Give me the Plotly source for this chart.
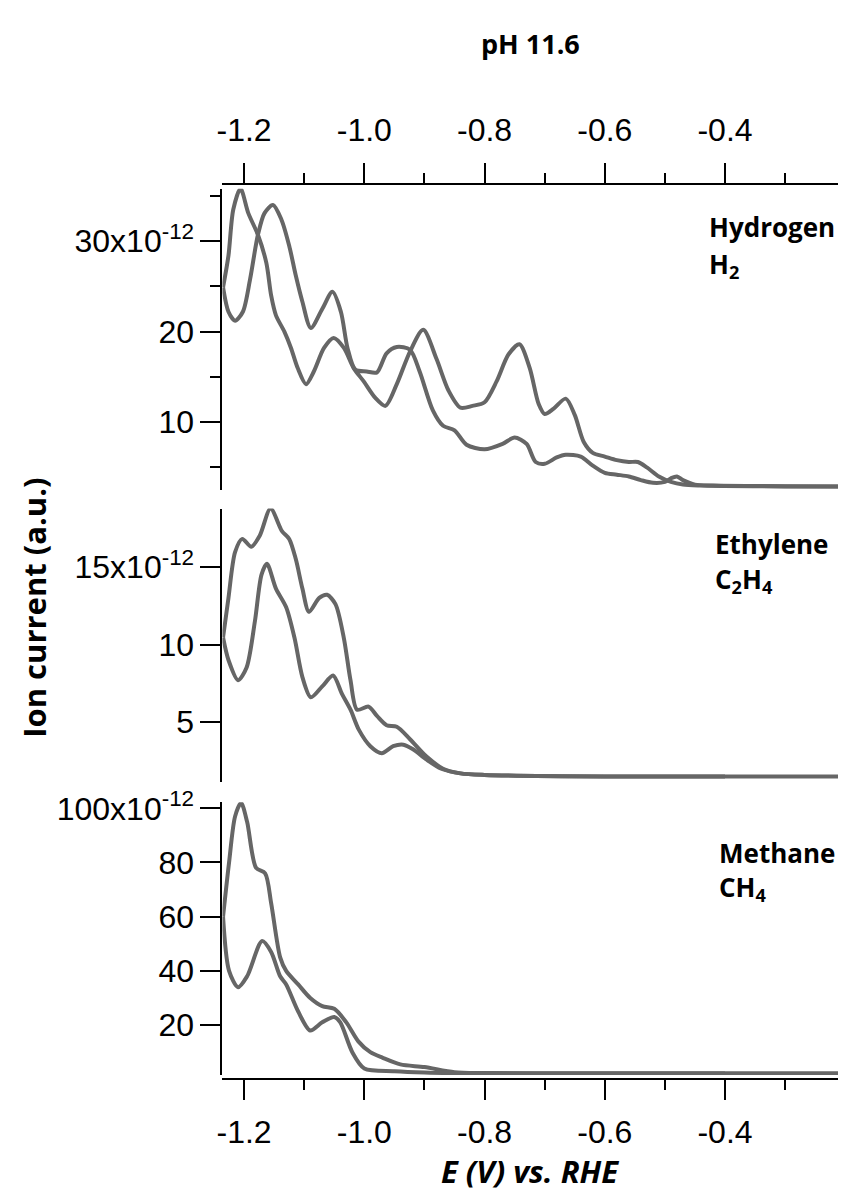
import plotly.graph_objects as go

# Potential axis (V vs. RHE) and tick labels
x_ticks = [-1.2, -1.0, -0.8, -0.6, -0.4]
x_tick_text = ["-1.2", "-1.0", "-0.8", "-0.6", "-0.4"]
x_minor = [-1.1, -0.9, -0.7, -0.5, -0.3]

# Hydrogen (H2) ion current, units of 1e-12
h2_a_v = [-1.235, -1.226, -1.218, -1.206, -1.193, -1.177, -1.163, -1.155, -1.147, -1.133, -1.122,
          -1.111, -1.097, -1.084, -1.067, -1.051, -1.034, -1.018, -1.001, -0.982, -0.965, -0.946,
          -0.924, -0.902, -0.88, -0.86, -0.84, -0.82, -0.80, -0.78, -0.76, -0.742, -0.725, -0.71,
          -0.70, -0.685, -0.665, -0.65, -0.635, -0.62, -0.60, -0.58, -0.56, -0.545, -0.53, -0.51,
          -0.49, -0.47, -0.44, -0.30, -0.212]
h2_a_i = [24.9, 28.4, 33.5, 35.8, 33.1, 30.7, 27.6, 24.0, 21.8, 20.0, 18.2,
          16.0, 14.2, 15.6, 18.2, 19.3, 18.2, 16.0, 14.5, 12.7, 11.8, 14.2,
          17.8, 20.2, 17.0, 13.5, 11.6, 11.8, 12.2, 14.5, 17.5, 18.6, 16.0, 12.0,
          10.9, 11.5, 12.6, 10.8, 7.8, 6.6, 6.2, 5.8, 5.6, 5.6, 5.0, 4.0,
          3.4, 3.1, 3.0, 2.9, 2.9]
h2_b_v = [-1.235, -1.226, -1.215, -1.202, -1.190, -1.177, -1.166, -1.152, -1.138, -1.125, -1.114,
          -1.103, -1.089, -1.070, -1.053, -1.039, -1.028, -1.015, -0.996, -0.979, -0.963, -0.946,
          -0.924, -0.908, -0.886, -0.869, -0.85, -0.83, -0.80, -0.77, -0.75, -0.73, -0.715, -0.70,
          -0.68, -0.665, -0.64, -0.62, -0.60, -0.58, -0.56, -0.54, -0.52, -0.50, -0.49, -0.48,
          -0.47, -0.45, -0.42, -0.212]
h2_b_i = [24.9, 22.2, 21.2, 22.2, 25.8, 30.7, 33.1, 34.0, 32.4, 29.5, 26.2,
          23.3, 20.4, 22.5, 24.4, 22.2, 18.2, 15.8, 15.6, 15.5, 17.6, 18.3,
          18.0, 15.6, 11.3, 9.6, 9.1, 7.5, 7.0, 7.6, 8.3, 7.6, 5.6, 5.4,
          6.1, 6.4, 6.2, 5.2, 4.4, 4.2, 4.0, 3.6, 3.3, 3.4, 3.8, 4.0,
          3.6, 3.1, 3.0, 2.9]

# Ethylene (C2H4) ion current, units of 1e-12
c2h4_a_v = [-1.235, -1.226, -1.215, -1.203, -1.188, -1.174, -1.156, -1.137, -1.125, -1.114, -1.103,
            -1.092, -1.075, -1.062, -1.048, -1.034, -1.023, -1.012, -0.993, -0.979, -0.963, -0.946,
            -0.924, -0.897, -0.869, -0.84, -0.80, -0.60, -0.40, -0.212]
c2h4_a_i = [10.45, 13.0, 15.95, 16.8, 16.3, 17.0, 18.75, 17.3, 16.8, 15.5, 13.6,
            12.1, 13.0, 13.2, 12.6, 10.4, 7.7, 5.8, 6.0, 5.4, 4.8, 4.7,
            3.9, 2.8, 2.0, 1.7, 1.6, 1.5, 1.5, 1.5]
c2h4_b_v = [-1.235, -1.226, -1.210, -1.196, -1.182, -1.171, -1.162, -1.147, -1.130, -1.116, -1.103,
            -1.089, -1.070, -1.052, -1.037, -1.023, -1.009, -0.990, -0.971, -0.952, -0.935, -0.919,
            -0.897, -0.872, -0.84, -0.80, -0.60, -0.40]
c2h4_b_i = [10.45, 9.0, 7.7, 8.5, 11.5, 14.5, 15.2, 13.6, 12.4, 10.4, 7.9,
            6.6, 7.3, 8.0, 6.8, 5.8, 4.5, 3.45, 3.0, 3.45, 3.55, 3.25,
            2.6, 2.0, 1.7, 1.6, 1.5, 1.5]

# Methane (CH4) ion current, units of 1e-12
ch4_a_v = [-1.235, -1.225, -1.215, -1.205, -1.195, -1.18, -1.165, -1.155, -1.14, -1.13, -1.11,
           -1.09, -1.07, -1.05, -1.03, -1.01, -0.99, -0.97, -0.94, -0.90, -0.85, -0.80, -0.60, -0.40, -0.212]
ch4_a_i = [60, 80, 97, 102, 95, 78, 76, 65, 45, 40, 35,
           30, 27, 26, 21, 14, 10, 8, 5.5, 4.5, 2.6, 2.3, 2.2, 2.2, 2.2]
ch4_b_v = [-1.235, -1.225, -1.21, -1.195, -1.17, -1.155, -1.14, -1.13, -1.11, -1.09, -1.07,
           -1.05, -1.04, -1.02, -1.00, -0.95, -0.90, -0.85, -0.60, -0.40]
ch4_b_i = [60, 40, 34, 38, 51, 47, 38, 35, 25, 18, 21,
           23, 21, 10, 4, 3, 2.5, 2.3, 2.1, 2.1]

# Left-axis ticks for each panel
h2_ticks = [10, 20, 30]
h2_tick_text = ["10", "20", "30x10<sup>-12</sup>"]
h2_minor = [5, 15, 25, 35]
c2h4_ticks = [5, 10, 15]
c2h4_tick_text = ["5", "10", "15x10<sup>-12</sup>"]
ch4_ticks = [20, 40, 60, 80, 100]
ch4_tick_text = ["20", "40", "60", "80", "100x10<sup>-12</sup>"]

W, H = 844, 1196
LINE = dict(color="rgb(102,102,102)", width=4, shape="spline", smoothing=0.8)
TICK_FONT = dict(family="Liberation Sans, Arial, sans-serif", size=32, color="black")
LABEL_FONT = "Open Sans, sans-serif"


def px_x(p):
    return p / W


def px_y(p):
    return 1 - p / H


fig = go.Figure()
panels = [
    ("y", h2_a_v, h2_a_i, h2_b_v, h2_b_i),
    ("y2", c2h4_a_v, c2h4_a_i, c2h4_b_v, c2h4_b_i),
    ("y3", ch4_a_v, ch4_a_i, ch4_b_v, ch4_b_i),
]
for yref, av, ai, bv, bi in panels:
    fig.add_trace(go.Scatter(x=av, y=ai, mode="lines", line=LINE, xaxis="x", yaxis=yref,
                             showlegend=False, hoverinfo="skip"))
    fig.add_trace(go.Scatter(x=bv, y=bi, mode="lines", line=LINE, xaxis="x", yaxis=yref,
                             showlegend=False, hoverinfo="skip"))
# placeholder so the top potential axis gets drawn
fig.add_trace(go.Scatter(x=[None], y=[None], xaxis="x2", yaxis="y", showlegend=False,
                         hoverinfo="skip"))

x_dom = [px_x(218), px_x(838)]
x_range = [-1.236, -0.212]
common_x = dict(
    range=x_range, domain=x_dom, tickvals=x_ticks, ticktext=x_tick_text,
    ticks="outside", ticklen=20, tickwidth=2, tickcolor="black",
    minor=dict(tickvals=x_minor, ticks="outside", ticklen=10, tickwidth=2, tickcolor="black"),
    showline=True, linewidth=2, linecolor="black", showgrid=False, zeroline=False,
    tickfont=TICK_FONT, anchor="free",
)
common_y = dict(
    anchor="x", ticks="outside", ticklen=20, tickwidth=2, tickcolor="black",
    showline=True, linewidth=2, linecolor="black", showgrid=False, zeroline=False,
    tickfont=TICK_FONT,
)

fig.update_layout(
    width=W, height=H, margin=dict(l=0, r=0, t=0, b=0),
    paper_bgcolor="white", plot_bgcolor="white",
    xaxis=dict(**common_x, side="bottom", position=px_y(1077.7), ticklabelstandoff=4),
    xaxis2=dict(**common_x, side="top", position=px_y(170.7), overlaying="x", matches="x",
                ticklabelstandoff=10),
    yaxis=dict(**common_y, domain=[px_y(480), px_y(175)], range=[2.55, 35.8],
               tickvals=h2_ticks, ticktext=h2_tick_text,
               minor=dict(tickvals=h2_minor, ticks="outside", ticklen=10, tickwidth=2,
                          tickcolor="black")),
    yaxis2=dict(**common_y, domain=[px_y(776), px_y(499.3)], range=[1.17, 18.75],
                tickvals=c2h4_ticks, ticktext=c2h4_tick_text),
    yaxis3=dict(**common_y, domain=[px_y(1073.3), px_y(797)], range=[1.6, 102.2],
                tickvals=ch4_ticks, ticktext=ch4_tick_text),
)

annotations = [
    dict(text="<b>pH 11.6</b>", x=px_x(528), y=px_y(28), font=dict(size=27)),
    dict(text="<b><i>E (V) vs. RHE</i></b>", x=px_x(528), y=px_y(1171), font=dict(size=31)),
    dict(text="<b>Ion current (a.u.)</b>", x=px_x(28), y=px_y(600), textangle=-90,
         font=dict(size=31)),
    dict(text="<b>Hydrogen</b>", x=px_x(706), y=px_y(214), xanchor="left", font=dict(size=26)),
    dict(text="<b>H<sub>2</sub></b>", x=px_x(706), y=px_y(252), xanchor="left", font=dict(size=26)),
    dict(text="<b>Ethylene</b>", x=px_x(712), y=px_y(535), xanchor="left", font=dict(size=26)),
    dict(text="<b>C<sub>2</sub>H<sub>4</sub></b>", x=px_x(712), y=px_y(572), xanchor="left",
         font=dict(size=26)),
    dict(text="<b>Methane</b>", x=px_x(716), y=px_y(848), xanchor="left", font=dict(size=26)),
    dict(text="<b>CH<sub>4</sub></b>", x=px_x(716), y=px_y(884), xanchor="left", font=dict(size=26)),
]
for a in annotations:
    a.setdefault("xanchor", "center")
    a["yanchor"] = "middle"
    a["xref"] = "paper"
    a["yref"] = "paper"
    a["showarrow"] = False
    a["font"] = dict(family=LABEL_FONT, color="black", **a["font"])
fig.update_layout(annotations=annotations)

fig.write_html("out.html")
